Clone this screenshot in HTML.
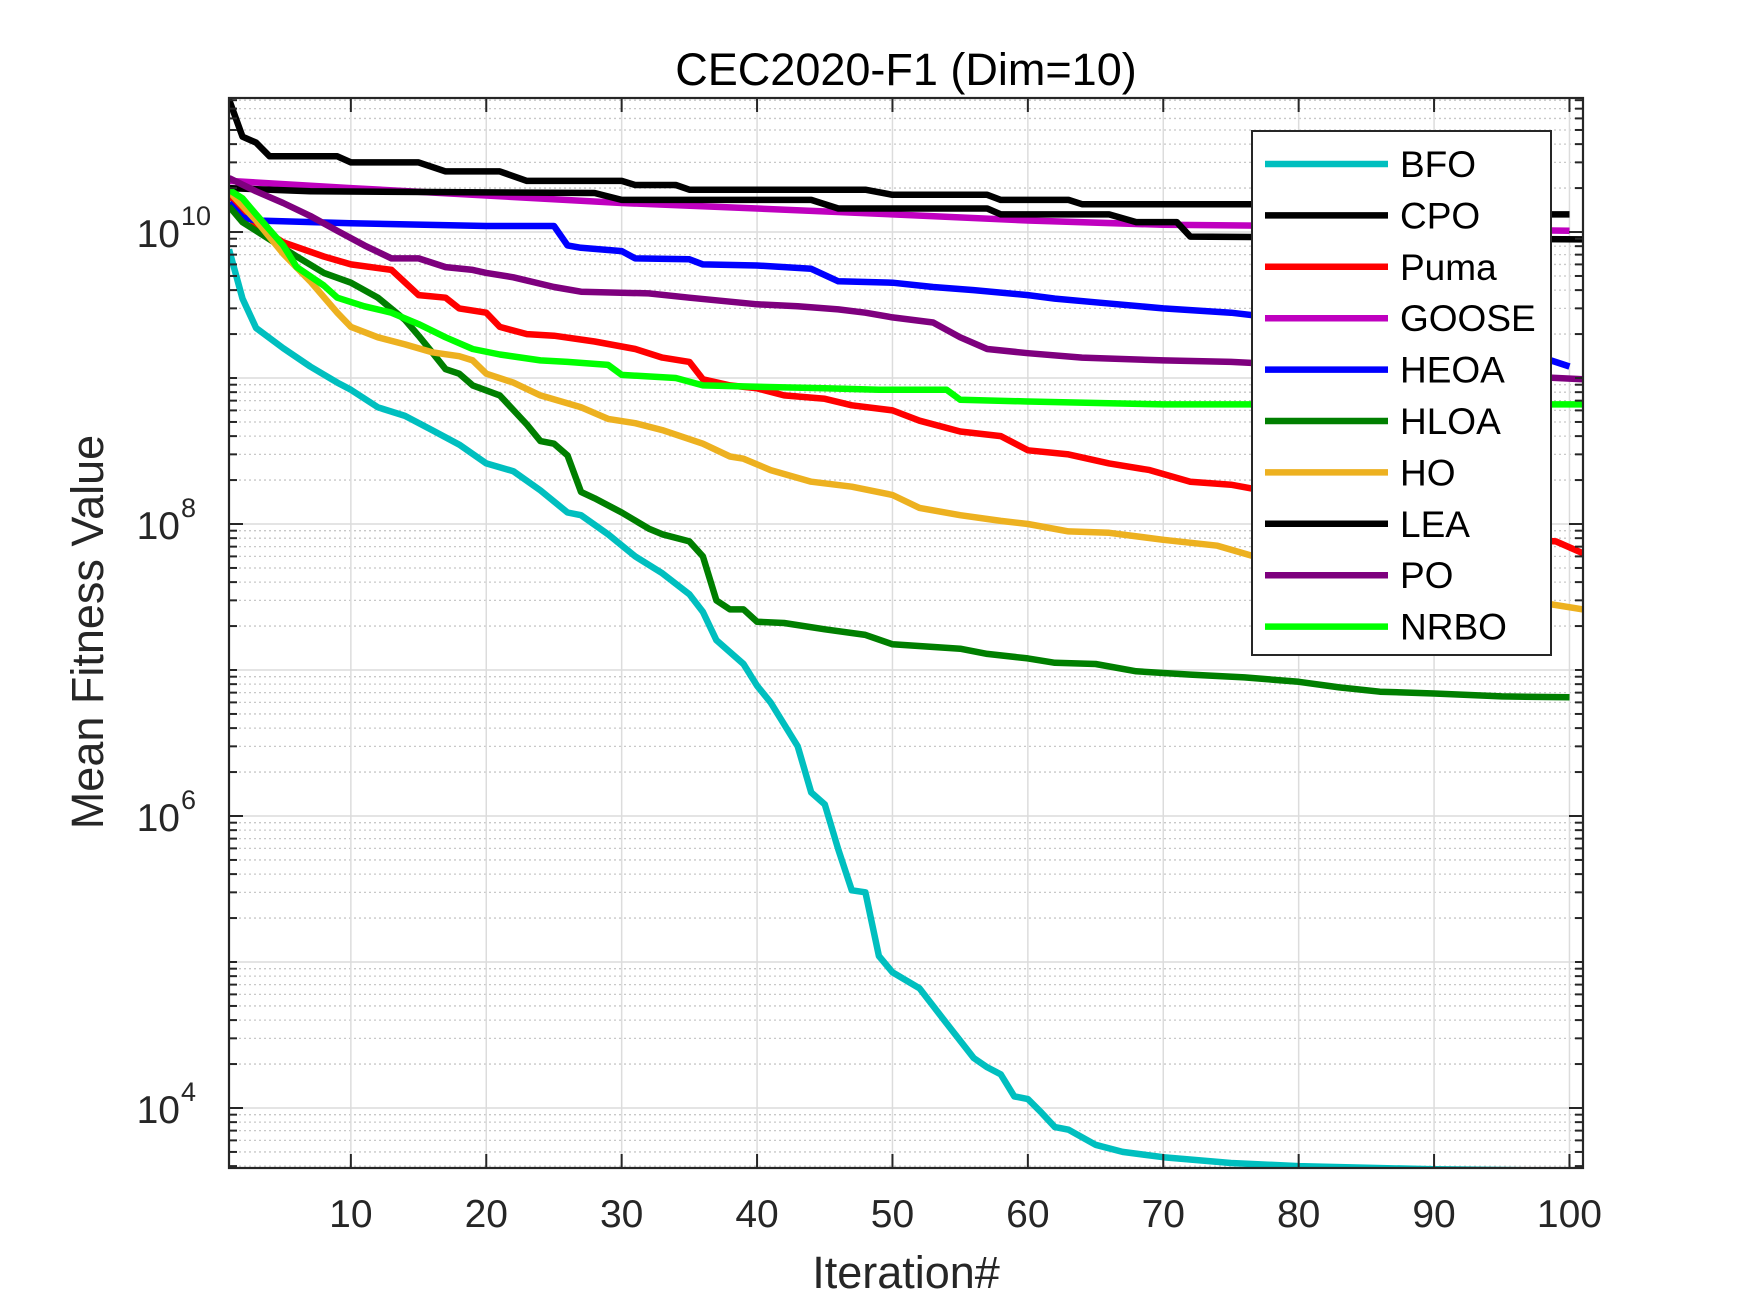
<!DOCTYPE html>
<html><head><meta charset="utf-8"><title>CEC2020-F1 (Dim=10)</title>
<style>
html,body{margin:0;padding:0;background:#fff;}
svg{display:block;font-family:"Liberation Sans",Arial,sans-serif;}
</style></head>
<body>
<svg id="chart" width="1750" height="1313" viewBox="0 0 1750 1313" xmlns="http://www.w3.org/2000/svg">
<rect width="1750" height="1313" fill="#fff"/>
<g id="grid"></g>
<g id="series" clip-path="url(#clip)"></g>
<defs><clipPath id="clip"><rect x="229" y="98" width="1354" height="1070"/></clipPath></defs>
<g id="axes"></g>
<text x="906" y="85" font-size="45" text-anchor="middle" fill="#000">CEC2020-F1 (Dim=10)</text>
<text x="906" y="1288" font-size="45" text-anchor="middle" fill="#262626">Iteration#</text>
<text transform="translate(103,632) rotate(-90)" font-size="45" text-anchor="middle" fill="#262626">Mean Fitness Value</text>
<g id="legend"></g>
</svg>
<script>
const xTicks = [10,20,30,40,50,60,70,80,90,100];
const yTickExps = [4,6,8,10];
const names = ["BFO","CPO","Puma","GOOSE","HEOA","HLOA","HO","LEA","PO","NRBO"];
const colors = ["#00BFBF","#000000","#FF0000","#BF00BF","#0000FF","#007F00","#EDB120","#000000","#7E007E","#00FF00"];

const BFO_it = [1,2,3,5,7,9,10,12,14,16,18,20,22,24,26,27,29,31,33,35,36,37,39,40,41,43,44,45,46,47,48,49,50,52,54,56,57,58,59,60,61,62,63,65,67,70,75,80,90,100];
const BFO_val = [7.6e9,3.5e9,2.2e9,1.6e9,1.2e9,9.3e8,8.3e8,6.3e8,5.5e8,4.4e8,3.5e8,2.6e8,2.3e8,1.7e8,1.2e8,1.15e8,8.5e7,6.0e7,4.6e7,3.3e7,2.5e7,1.6e7,1.1e7,7.8e6,6.0e6,3.0e6,1.45e6,1.2e6,5.9e5,3.1e5,3.0e5,1.1e5,8.5e4,6.6e4,3.8e4,2.2e4,1.9e4,1.7e4,1.2e4,1.15e4,9.3e3,7.4e3,7.1e3,5.6e3,5.0e3,4.6e3,4.2e3,4.0e3,3.8e3,3.72e3];
const CPO_it = [1,2,3,4,9,10,15,17,21,23,30,31,34,35,48,50,57,58,63,64,78,79,100];
const CPO_val = [8.1e10,4.5e10,4.1e10,3.3e10,3.3e10,3.0e10,3.0e10,2.6e10,2.6e10,2.24e10,2.24e10,2.1e10,2.1e10,1.95e10,1.95e10,1.8e10,1.8e10,1.66e10,1.66e10,1.55e10,1.55e10,1.32e10,1.32e10];
const Puma_it = [1,3,5,8,10,13,15,17,18,20,21,23,25,28,31,33,35,36,38,40,42,45,47,50,52,55,58,60,63,66,69,72,75,97,99,101];
const Puma_val = [1.8e10,1.12e10,8.5e9,6.8e9,6.0e9,5.5e9,3.7e9,3.55e9,3.0e9,2.8e9,2.24e9,2.0e9,1.95e9,1.78e9,1.58e9,1.38e9,1.29e9,9.8e8,8.9e8,8.5e8,7.6e8,7.2e8,6.5e8,6.0e8,5.1e8,4.3e8,4.0e8,3.2e8,3.0e8,2.6e8,2.34e8,1.95e8,1.86e8,7.8e7,7.6e7,6.3e7];
const GOOSE_it = [1,10,20,30,40,50,60,70,80,90,100];
const GOOSE_val = [2.24e10,2.0e10,1.78e10,1.58e10,1.45e10,1.32e10,1.2e10,1.12e10,1.1e10,1.05e10,1.02e10];
const HEOA_it = [1,2,3,10,20,25,26,27,30,31,35,36,40,44,46,50,53,56,60,62,65,70,75,78,98,100];
const HEOA_val = [1.58e10,1.26e10,1.2e10,1.15e10,1.1e10,1.1e10,8.1e9,7.8e9,7.4e9,6.6e9,6.5e9,6.0e9,5.9e9,5.6e9,4.6e9,4.5e9,4.2e9,4.0e9,3.7e9,3.5e9,3.3e9,3.0e9,2.8e9,2.6e9,1.38e9,1.2e9];
const HLOA_it = [1,2,4,6,8,10,12,14,15,16,17,18,19,21,23,24,25,26,27,28,30,32,33,35,36,37,38,39,40,42,45,48,50,55,57,60,62,65,68,72,76,80,83,86,90,95,100];
const HLOA_val = [1.5e10,1.17e10,8.9e9,6.8e9,5.25e9,4.5e9,3.55e9,2.5e9,1.95e9,1.5e9,1.15e9,1.07e9,8.9e8,7.6e8,4.8e8,3.7e8,3.55e8,2.95e8,1.66e8,1.5e8,1.2e8,9.3e7,8.5e7,7.6e7,6.0e7,3.0e7,2.6e7,2.6e7,2.14e7,2.1e7,1.9e7,1.74e7,1.5e7,1.4e7,1.29e7,1.2e7,1.12e7,1.1e7,9.8e6,9.3e6,8.9e6,8.3e6,7.6e6,7.1e6,6.9e6,6.6e6,6.5e6];
const HO_it = [1,3,5,7,9,10,12,14,16,18,19,20,22,24,27,29,31,33,36,38,39,41,44,47,50,52,55,58,60,63,66,70,74,77,101];
const HO_val = [1.9e10,1.2e10,7.1e9,4.6e9,2.8e9,2.24e9,1.9e9,1.7e9,1.5e9,1.41e9,1.32e9,1.07e9,9.3e8,7.6e8,6.3e8,5.25e8,4.9e8,4.4e8,3.55e8,2.9e8,2.8e8,2.34e8,1.95e8,1.8e8,1.58e8,1.29e8,1.15e8,1.05e8,1.0e8,8.9e7,8.7e7,7.8e7,7.1e7,5.9e7,2.6e7];
const LEA_it = [1,7,28,30,44,46,57,58,66,68,71,72,101];
const LEA_val = [2.0e10,1.9e10,1.85e10,1.66e10,1.66e10,1.45e10,1.45e10,1.32e10,1.32e10,1.17e10,1.17e10,9.3e9,8.9e9];
const PO_it = [1,3,5,7,9,11,13,15,17,19,20,22,25,27,32,35,40,43,46,48,50,53,55,57,60,64,70,75,101];
const PO_val = [2.34e10,1.9e10,1.58e10,1.29e10,1.02e10,8.1e9,6.6e9,6.6e9,5.75e9,5.5e9,5.25e9,4.9e9,4.2e9,3.9e9,3.8e9,3.55e9,3.2e9,3.1e9,2.95e9,2.8e9,2.6e9,2.4e9,1.9e9,1.58e9,1.48e9,1.38e9,1.32e9,1.29e9,9.8e8];
const NRBO_it = [1,2,3,5,6,8,9,11,13,15,17,19,21,24,26,29,30,34,36,40,45,49,54,55,60,70,101];
const NRBO_val = [1.95e10,1.7e10,1.32e10,8.1e9,5.75e9,4.3e9,3.55e9,3.1e9,2.8e9,2.34e9,1.9e9,1.58e9,1.45e9,1.32e9,1.29e9,1.23e9,1.05e9,1.0e9,8.9e8,8.7e8,8.5e8,8.3e8,8.3e8,7.1e8,6.9e8,6.6e8,6.6e8];

const seriesIt = [BFO_it,CPO_it,Puma_it,GOOSE_it,HEOA_it,HLOA_it,HO_it,LEA_it,PO_it,NRBO_it];
const seriesVal = [BFO_val,CPO_val,Puma_val,GOOSE_val,HEOA_val,HLOA_val,HO_val,LEA_val,PO_val,NRBO_val];

const NS = "http://www.w3.org/2000/svg";
const L = 229, R = 1583, T = 98, B = 1168;
const xMin = 1, xMax = 101;
const yMinExp = 3.589, yMaxExp = 10.918;
function xs(i){ return L + (i - xMin) * (R - L) / (xMax - xMin); }
function ysExp(e){ return T + (yMaxExp - e) * (B - T) / (yMaxExp - yMinExp); }
function ys(v){ return ysExp(Math.log10(v)); }
function mk(tag, attrs, parent){
  const el = document.createElementNS(NS, tag);
  for (const k in attrs) el.setAttribute(k, attrs[k]);
  parent.appendChild(el);
  return el;
}
const grid = document.getElementById('grid');
const axes = document.getElementById('axes');
const series = document.getElementById('series');
const legend = document.getElementById('legend');

for (let d = 3; d <= 10; d++) {
  for (let m = 1; m <= 9; m++) {
    const e = d + Math.log10(m);
    if (e < yMinExp || e > yMaxExp) continue;
    const y = ysExp(e);
    const ln = mk('line', {x1:L, x2:R, y1:y, y2:y, stroke: m===1 ? '#dcdcdc' : '#c8c8c8', 'stroke-width': m===1 ? 1.5 : 1.3, 'stroke-dasharray': m===1 ? '' : '2,3'}, grid);
    
    
    const tl = (m===1 && yTickExps.includes(d)) ? 14 : 8;
    const t1 = mk('line', {x1:L, x2:L+tl, y1:y, y2:y, stroke:'#262626', 'stroke-width':2}, axes);
    
    
    const t2 = mk('line', {x1:R, x2:R-tl, y1:y, y2:y, stroke:'#262626', 'stroke-width':2}, axes);
    
    
  }
}
xTicks.forEach(t => {
  const x = xs(t);
  const g = mk('line', {x1:x, x2:x, y1:T, y2:B, stroke:'#dcdcdc', 'stroke-width':1.5}, grid);
  
  
  const a = mk('line', {x1:x, x2:x, y1:B, y2:B-14, stroke:'#262626', 'stroke-width':2}, axes);
  
  
  const b = mk('line', {x1:x, x2:x, y1:T, y2:T+14, stroke:'#262626', 'stroke-width':2}, axes);
  
  
  const lab = mk('text', {x:x, y:1227, 'font-size':39, 'text-anchor':'middle', fill:'#262626'}, axes);
  
  
  lab.textContent = String(t);
});
yTickExps.forEach(e => {
  const y = ysExp(e);
  const tx = mk('text', {x:180, y:y+15, 'font-size':39, 'text-anchor':'end', fill:'#262626'}, axes);
  
  
  tx.textContent = '10';
  const sup = mk('text', {x:181, y:y-7, 'font-size':27, 'text-anchor':'start', fill:'#262626'}, axes);
  
  
  sup.textContent = String(e);
});
const box = mk('rect', {x:L, y:T, width:R-L, height:B-T, fill:'none', stroke:'#262626', 'stroke-width':2.2}, axes);



seriesIt.forEach((its, k) => {
  const vals = seriesVal[k];
  const pts = its.map((it, j) => xs(it).toFixed(1) + ',' + ys(vals[j]).toFixed(1)).join(' ');
  const pl = mk('polyline', {points:pts, fill:'none', stroke:colors[k], 'stroke-width':6.5, 'stroke-linejoin':'round', 'stroke-linecap':'butt'}, series);
  
  
});

const lx = 1252, ly = 131, lw = 299, lh = 524;
const lb = mk('rect', {x:lx, y:ly, width:lw, height:lh, fill:'#fff', stroke:'#262626', 'stroke-width':2}, legend);


names.forEach((n, k) => {
  const y = 164 + k * 51.4;
  const g = mk('g', {}, legend);
  
  
  mk('line', {x1:1265, x2:1388, y1:y, y2:y, stroke:colors[k], 'stroke-width':6.5}, g);
  const t = mk('text', {x:1400, y:y+13, 'font-size':37, fill:'#000'}, g);
  t.textContent = n;
});
</script>
</body></html>
